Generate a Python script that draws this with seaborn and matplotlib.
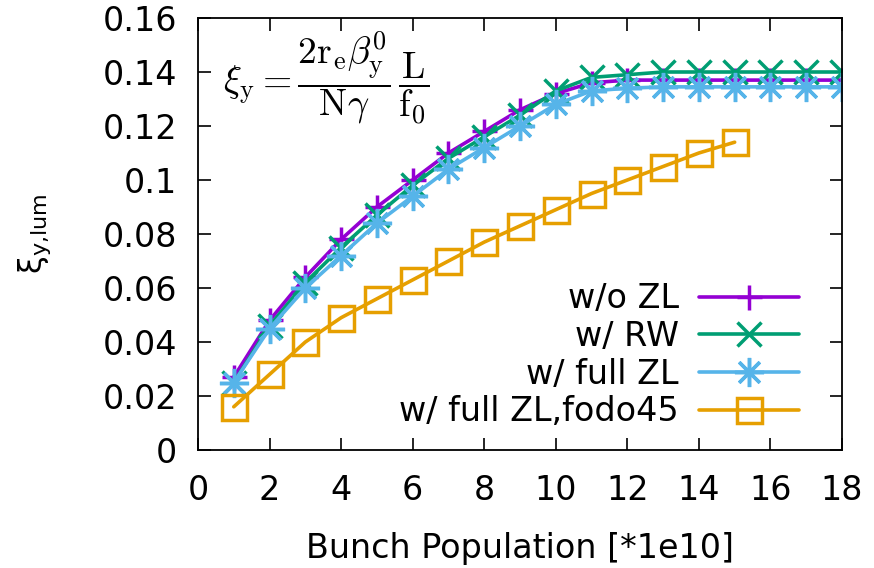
import matplotlib
matplotlib.use("Agg")
import matplotlib.pyplot as plt
from matplotlib.ticker import FuncFormatter, MultipleLocator
import seaborn as sns
import pandas as pd

# ---- data ----
x_full = list(range(1, 19))
y_wo_zl = [0.027, 0.048, 0.064, 0.078, 0.090, 0.100, 0.110, 0.118, 0.126, 0.132,
           0.136, 0.137, 0.137, 0.137, 0.137, 0.137, 0.137, 0.137]
y_rw = [0.025, 0.046, 0.062, 0.075, 0.087, 0.098, 0.108, 0.116, 0.124, 0.133,
        0.138, 0.139, 0.140, 0.140, 0.140, 0.140, 0.140, 0.140]
y_full = [0.025, 0.045, 0.060, 0.072, 0.084, 0.094, 0.104, 0.112, 0.120, 0.128,
          0.133, 0.134, 0.1345, 0.1345, 0.1345, 0.1345, 0.1345, 0.1345]
x_fodo = list(range(1, 16))
y_fodo = [0.016, 0.028, 0.040, 0.049, 0.056, 0.063, 0.070, 0.077, 0.083, 0.089,
          0.095, 0.100, 0.105, 0.110, 0.114]

labels = ["w/o ZL", "w/ RW", "w/ full ZL", "w/ full ZL,fodo45"]
colors = ["#9400d3", "#009e73", "#56b4e9", "#e69f00"]
markers = ["+", "x", (8, 2, 0), "s"]
msizes = [18, 17, 21, 18]

series = [(x_full, y_wo_zl), (x_full, y_rw), (x_full, y_full), (x_fodo, y_fodo)]

sns.set_style("ticks")
plt.rcParams['font.family'] = ['DejaVu Sans']
plt.rcParams['text.color'] = 'black'
plt.rcParams['axes.labelcolor'] = 'black'

FS = 24

fig = plt.figure(figsize=(8.74, 5.68), dpi=100)
ax = fig.add_axes([198 / 874, 1 - 450 / 568, (842 - 198) / 874, (450 - 18) / 568])

for (xs, ys), lab, col, mk, ms in zip(series, labels, colors, markers, msizes):
    df = pd.DataFrame({"x": xs, "y": ys})
    sns.lineplot(data=df, x="x", y="y", ax=ax, color=col, marker=mk, label=lab,
                 linewidth=2.6, markersize=ms, markeredgewidth=2.5,
                 markerfacecolor="none", markeredgecolor=col)

ax.set_xlim(0, 18)
ax.set_ylim(0, 0.16)
ax.xaxis.set_major_locator(MultipleLocator(2))
ax.yaxis.set_major_locator(MultipleLocator(0.02))
ax.yaxis.set_major_formatter(FuncFormatter(lambda v, p: "%g" % round(v, 4)))
ax.xaxis.set_major_formatter(FuncFormatter(lambda v, p: "%g" % v))
ax.tick_params(axis="both", direction="in", length=9, width=1.2, labelsize=FS,
               top=True, right=True, colors="black", labelcolor="black")
ax.tick_params(axis="x", pad=17)
ax.tick_params(axis="y", pad=15)
for s in ax.spines.values():
    s.set_visible(True)
    s.set_linewidth(1.3)
    s.set_color("black")

ax.set_xlabel("Bunch Population [*1e10]", fontsize=FS, labelpad=18, color="black")
ax.set_ylabel(r"$\mathregular{\xi_{y{,}lum}}$", fontsize=23, labelpad=36, color="black")

ax.text(0.199, 0.861,
        r"$\xi_{\rm y} = \dfrac{2{\rm r}_{\rm e}\beta_{\rm y}^{0}}{{\rm N}\gamma}\,\dfrac{\rm L}{{\rm f}_0}$",
        transform=ax.transAxes, ha="center", va="center", fontsize=27,
        math_fontfamily="cm", color="black")

leg = ax.legend(loc="center right", bbox_to_anchor=(0.933, 0.219), frameon=False,
                fontsize=FS, markerfirst=False, handlelength=3.0, handletextpad=0.6,
                labelspacing=0.14, borderpad=0, borderaxespad=0)
for t in leg.get_texts():
    t.set_color("black")
for col in leg._legend_handle_box.get_children():
    col.align = "right"

fig.savefig("out.png", dpi=100)
